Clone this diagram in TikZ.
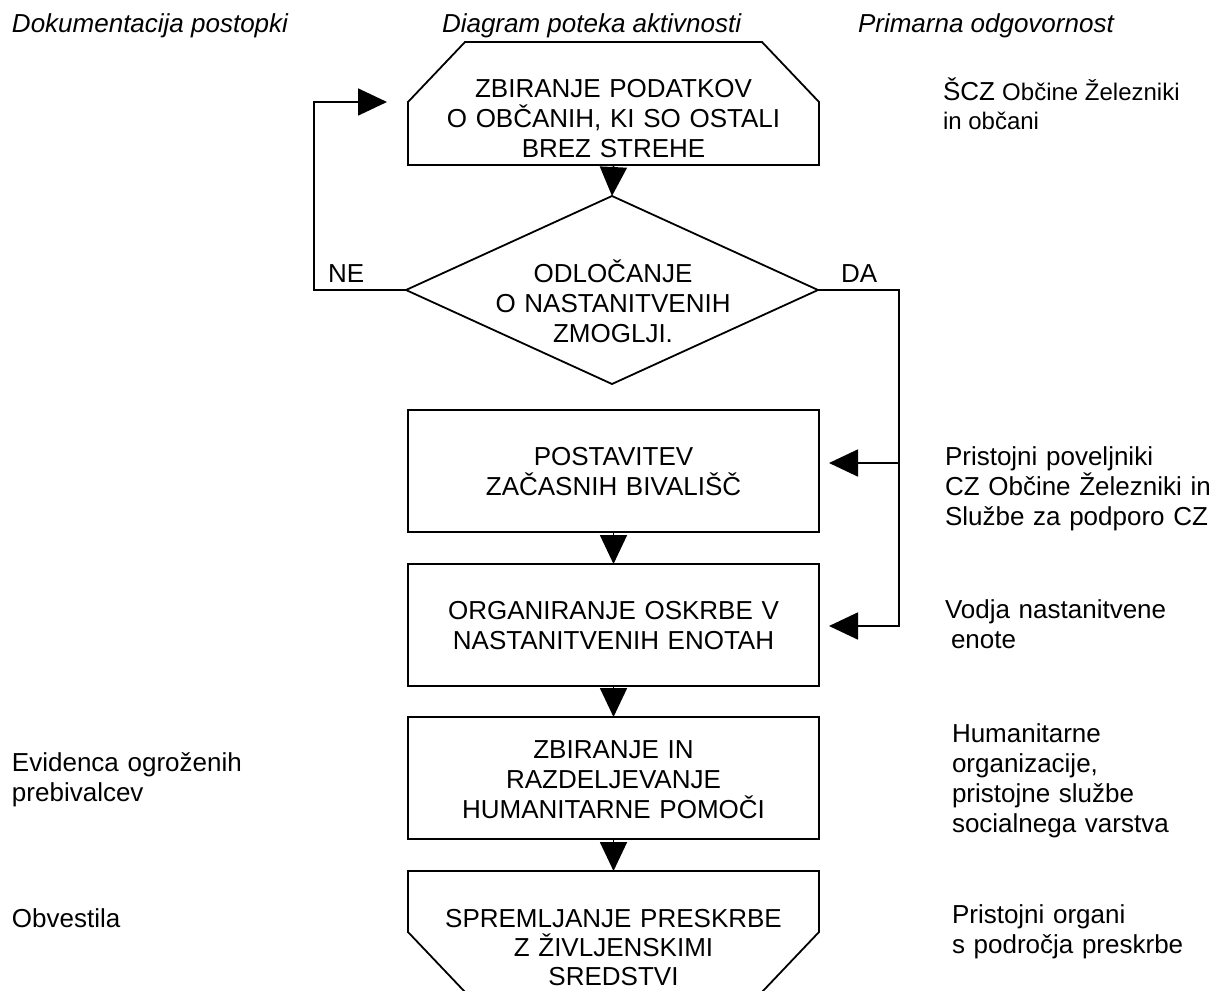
\documentclass[tikz,border=0pt]{standalone}
\usepackage{fontspec}
\setmainfont{Liberation Sans}
\usetikzlibrary{arrows.meta,shapes.geometric,calc}
\begin{document}
\begin{tikzpicture}[x=1pt,y=-1pt,
  every node/.style={inner sep=0pt, outer sep=0pt},
  shapeline/.style={line width=1.8pt, line join=miter},
  conn/.style={line width=1.8pt},
  arr/.style={conn, -{Triangle[length=29pt,width=27pt]}},
  txt/.style={font=\fontsize{26}{30}\selectfont},
  btxt/.style={txt, text width=420pt, align=center, anchor=base},
  rtxt/.style={txt, text width=300pt, align=left, anchor=base west},
  head/.style={font=\fontsize{26}{30}\selectfont\itshape, anchor=base west},
  boxst/.style={draw, shapeline, minimum width=411pt, minimum height=122pt},
  ghost/.style={minimum width=411pt}
]
\useasboundingbox (0,0) rectangle (1214,990);

% headers
\node[head] (h1) at (12,33) {Dokumentacija postopki};
\node[head] (h2) at (442,33) {Diagram poteka aktivnosti};
\node[head] (h3) at (858,33) {Primarna odgovornost};

% top shape
\node[ghost, minimum height=123pt] (z1) at (613.5,103.5) {};
\draw[shapeline] (z1.south west) -- ($(z1.north west)+(0,60)$) -- ($(z1.north west)+(57,0)$)
  -- ($(z1.north east)+(-57,0)$) -- ($(z1.north east)+(0,60)$) -- (z1.south east) -- cycle;
\node[btxt] (t1) at (613.5,97) {ZBIRANJE PODATKOV\\O OBČANIH, KI SO OSTALI\\BREZ STREHE};

% decision
\node[diamond, draw, shapeline, minimum width=412pt, minimum height=188pt, aspect=2.19] (d) at (612,290) {};
\node[btxt] (td) at (613,282) {ODLOČANJE\\O NASTANITVENIH\\ZMOGLJI.};

% boxes
\node[boxst] (b1) at (613.5,471) {};
\node[btxt] (t2) at (613.5,465) {POSTAVITEV\\ZAČASNIH BIVALIŠČ};
\node[boxst] (b2) at (613.5,625) {};
\node[btxt] (t3) at (613.5,619) {ORGANIRANJE OSKRBE V\\NASTANITVENIH ENOTAH};
\node[boxst] (b3) at (613.5,778) {};
\node[btxt] (t4) at (613.5,758) {ZBIRANJE IN\\RAZDELJEVANJE\\HUMANITARNE POMOČI};

% bottom shape
\node[ghost, minimum height=121pt] (z5) at (613.5,931.5) {};
\draw[shapeline] (z5.north west) -- (z5.north east) -- ($(z5.north east)+(0,61)$)
  -- ($(z5.south east)+(-57,0)$) -- ($(z5.south west)+(57,0)$) -- ($(z5.north west)+(0,61)$) -- cycle;
\node[btxt, font=\fontsize{26}{29}\selectfont] (t5) at (613.5,927) {SPREMLJANJE PRESKRBE\\Z ŽIVLJENSKIMI\\SREDSTVI};

% connectors
\draw[arr] (z1.south) -- (d.north);
\draw[arr] (b1.south) -- (b2.north);
\draw[arr] (b2.south) -- (b3.north);
\draw[arr] (b3.south) -- (z5.north);

\coordinate (lc) at (314,102);
\draw[arr, shorten >=21pt] (d.west) -| (lc) -- (lc -| z1.west);

\coordinate (da1) at (899,463);
\coordinate (da2) at (899,626);
\draw[arr, shorten >=10pt] (d.east) -| (da2) -- (da2 -| b2.east);
\draw[arr, shorten >=10pt] (da1) -- (da1 -| b1.east);

\node[txt, anchor=base west] (ne) at (328,282) {NE};
\node[txt, anchor=base west] (da) at (841,282) {DA};

% right column
\node[anchor=base west] (r1) at (943,100) {\fontsize{26}{30}\selectfont ŠCZ \fontsize{24}{30}\selectfont Občine Železniki};
\node[anchor=base west, font=\fontsize{24}{30}\selectfont] (r1b) at (943,129) {in občani};
\node[rtxt] (r2) at (945,465) {Pristojni poveljniki\\CZ Občine Železniki in\\Službe za podporo CZ};
\node[rtxt] (r3) at (945,618) {Vodja nastanitvene\\\hspace*{6pt}enote};
\node[rtxt] (r4) at (952,742) {Humanitarne\\organizacije,\\pristojne službe\\socialnega varstva};
\node[rtxt] (r5) at (952,923) {Pristojni organi\\s področja preskrbe};

% left column
\node[rtxt] (l1) at (12,771) {Evidenca ogroženih\\prebivalcev};
\node[rtxt] (l2) at (12,927) {Obvestila};
\end{tikzpicture}
\end{document}
